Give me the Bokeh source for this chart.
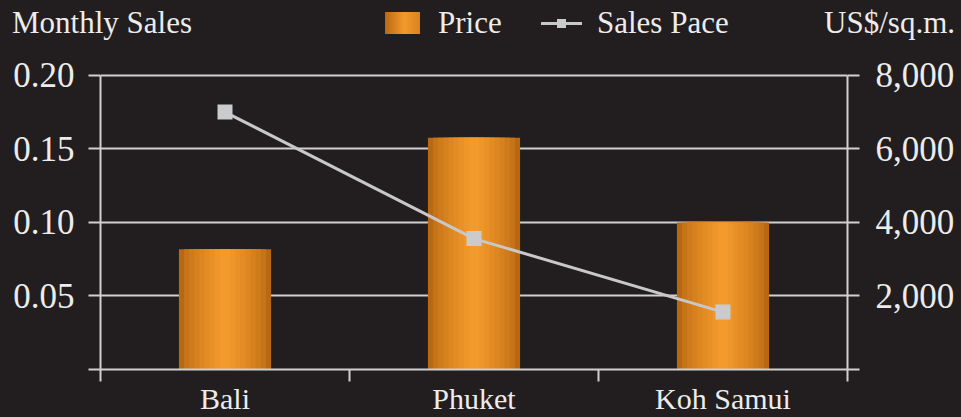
from bokeh.plotting import figure
from bokeh.layouts import column
from bokeh.models import (Range1d, LinearAxis, FixedTicker,
                          NumeralTickFormatter, Grid, Div)
from bokeh.embed import file_html
from bokeh.resources import INLINE

# ---- data ----
locations = ["Bali", "Phuket", "Koh Samui"]
price = [3270, 6300, 4000]            # US$/sq.m. (right axis, bars)
sales_pace = [0.175, 0.089, 0.039]    # monthly sales (left axis, line)
left_ticks = [0, 0.05, 0.10, 0.15, 0.20]
right_ticks = [0, 2000, 4000, 6000, 8000]
left_title = "Monthly Sales"
right_title = "US$/sq.m."
bar_name = "Price"
line_name = "Sales Pace"

# category slot centres on a 0..n axis (one slot per location)
xs = [i + 0.5 for i in range(len(locations))]

# ---- style ----
BG = "#221e1f"
GRID = "#d0d0d0"
TEXT = "#ececec"
FONT = "Liberation Serif"
LINE = "#c8c8c8"
MARK = "#c9cbcd"
W = 961
HEAD_H = 50
MAIN_H = 367
PAD = 0.006   # tiny head-room so the top grid line is not clipped

edge = (184, 104, 18)
center = (244, 154, 44)
layers = 9
bar_colors = []
for k in range(layers):
    f = (k / (layers - 1)) ** 0.7
    c = tuple(int(round(edge[i] + (center[i] - edge[i]) * f)) for i in range(3))
    bar_colors.append("#%02x%02x%02x" % c)

# ================= header: axis titles + legend =================
txt = "position:absolute;top:7px;line-height:1;white-space:nowrap;"
header_html = f"""
<div style="position:relative;width:{W}px;height:{HEAD_H + 2}px;background:{BG};
 font-family:'{FONT}';font-size:31px;color:{TEXT};overflow:hidden;">
 <span style="{txt}left:12px;">{left_title}</span>
 <span style="position:absolute;left:385px;top:12px;width:35px;height:22px;
   background:linear-gradient(to right,#b86812,#f49a2c 55%,#d9831f);"></span>
 <span style="{txt}left:438px;">{bar_name}</span>
 <span style="position:absolute;left:541px;top:22px;width:41px;height:3px;background:{LINE};"></span>
 <span style="position:absolute;left:557px;top:19px;width:9px;height:9px;background:{MARK};"></span>
 <span style="{txt}left:597px;">{line_name}</span>
 <span style="{txt}right:6px;">{right_title}</span>
</div>
"""
header = Div(text=header_html, width=W, height=HEAD_H,
             styles={"background-color": BG, "margin": "0", "padding": "0",
                     "overflow": "hidden"})

# ================= main chart =================
p = figure(width=W, height=MAIN_H,
           x_range=Range1d(0, len(locations)),
           y_range=Range1d(left_ticks[0], left_ticks[-1] * (1 + PAD)),
           output_backend="svg", toolbar_location=None,
           x_axis_location=None, y_axis_location=None,
           min_border_left=100, min_border_right=114,
           min_border_top=23, min_border_bottom=48,
           styles={"background-color": BG})
p.extra_y_ranges = {"price": Range1d(right_ticks[0], right_ticks[-1] * (1 + PAD))}
p.background_fill_color = BG
p.border_fill_color = BG
p.outline_line_color = None
p.xgrid.visible = False
p.ygrid.visible = False


def style_axis(ax, standoff, ticks):
    ax.bounds = (ticks[0], ticks[-1])
    ax.axis_line_color = GRID
    ax.axis_line_width = 2
    ax.major_tick_line_color = GRID
    ax.major_tick_line_width = 2
    ax.major_tick_out = 12
    ax.major_tick_in = 0
    ax.minor_tick_line_color = None
    ax.major_label_text_color = TEXT
    ax.major_label_text_font = FONT
    ax.major_label_text_font_size = "35px"
    ax.major_label_standoff = standoff


yl = LinearAxis(ticker=FixedTicker(ticks=left_ticks),
                formatter=NumeralTickFormatter(format="0.00"))
yl.major_label_overrides = {0: ""}
style_axis(yl, 14, left_ticks)
p.add_layout(yl, "left")

yr = LinearAxis(y_range_name="price", ticker=FixedTicker(ticks=right_ticks),
                formatter=NumeralTickFormatter(format="0,0"))
yr.major_label_overrides = {0: ""}
style_axis(yr, 16, right_ticks)
p.add_layout(yr, "right")

xb = LinearAxis(ticker=FixedTicker(ticks=xs, minor_ticks=list(range(len(locations) + 1))))
xb.major_label_overrides = {x: name for x, name in zip(xs, locations)}
xb.axis_line_color = GRID
xb.axis_line_width = 2
xb.major_tick_line_color = None
xb.major_tick_out = 0
xb.major_tick_in = 0
xb.minor_tick_line_color = GRID
xb.minor_tick_line_width = 2
xb.minor_tick_out = 12
xb.minor_tick_in = 0
xb.major_label_text_color = TEXT
xb.major_label_text_font = FONT
xb.major_label_text_font_size = "30px"
xb.major_label_standoff = 0
p.add_layout(xb, "below")

p.add_layout(Grid(dimension=1, axis=yl, grid_line_color=GRID, grid_line_width=2))

# bars with a horizontal gradient (layered)
for k in range(layers):
    p.vbar(x=xs, top=price, width=0.37 * (1 - k / layers),
           y_range_name="price", fill_color=bar_colors[k], line_color=None)

# sales pace line
p.line(x=xs, y=sales_pace, line_color=LINE, line_width=3)
p.scatter(x=xs, y=sales_pace, marker="square", size=15, fill_color=MARK, line_color=None)

layout = column(header, p, spacing=0, styles={"background-color": BG})
open("out.html", "w").write(file_html(layout, INLINE))
